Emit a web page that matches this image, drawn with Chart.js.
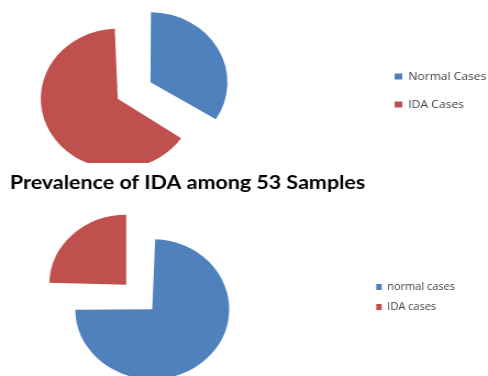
<!DOCTYPE html>
<html>
<head>
<meta charset="utf-8">
<script src="https://cdn.jsdelivr.net/npm/chart.js@4"></script>
<style>
  html, body { margin: 0; padding: 0; background: #fff; }
  #page { position: relative; width: 488px; height: 376px; overflow: hidden; }
  canvas { position: absolute; left: 0; }
</style>
</head>
<body>
<div id="page">
  <!-- the source picture is stretched sideways a little, so the canvases are too -->
  <canvas id="topPie" width="444" height="163" style="top:0;width:488px;height:163px"></canvas>
  <canvas id="bottomPie" width="444" height="230" style="top:163px;width:488px;height:230px"></canvas>
</div>
<script>
var topLabels = ["Normal Cases", "IDA Cases"];
var topValues = [18, 35];
var bottomLabels = ["normal cases", "IDA cases"];
var bottomValues = [40, 13];
var sliceColors = ["#4F81BD", "#C0504D"];
var bottomTitle = "Prevalence of IDA among 53 Samples";

// Chart.js makes an exploded slice bigger by part of its offset;
// take that back so every slice keeps the same radius.
var evenRadius = {
  id: "evenRadius",
  beforeDatasetsDraw: function(chart) {
    var meta = chart.getDatasetMeta(0);
    var base = meta.controller.outerRadius;
    meta.data.forEach(function(arc) {
      var shift = (arc.options.offset || 0) / 4;
      var fix = 1 - Math.sin(Math.min(Math.PI, arc.circumference));
      arc.outerRadius = base - shift * fix;
    });
  }
};

function makePie(id, labels, values, cfg) {
  return new Chart(document.getElementById(id), {
    type: "pie",
    data: {
      labels: labels,
      datasets: [{
        data: values,
        backgroundColor: sliceColors,
        borderWidth: 0,
        offset: 68,
        radius: 70
      }]
    },
    options: {
      responsive: false,
      animation: false,
      layout: { padding: cfg.padding },
      plugins: {
        tooltip: { enabled: false },
        title: cfg.title || { display: false },
        // empty box between the pie and the legend
        subtitle: {
          display: true,
          text: "",
          position: "right",
          weight: 500,
          font: { size: 10, lineHeight: 1 },
          padding: { top: 0, bottom: cfg.gap }
        },
        legend: {
          position: "right",
          fullSize: false,
          maxWidth: cfg.legendWidth,
          labels: {
            color: "#404040",
            font: { family: "Open Sans", size: cfg.fontSize },
            boxWidth: cfg.box,
            boxHeight: 6,
            padding: cfg.rowPad
          }
        }
      }
    },
    plugins: [evenRadius]
  });
}

makePie("topPie", topLabels, topValues, {
  padding: { left: 0, right: 0, top: 18, bottom: 0 },
  gap: 88,
  legendWidth: 102,
  fontSize: 11,
  box: 7,
  rowPad: 17
});

makePie("bottomPie", bottomLabels, bottomValues, {
  padding: { left: 9, right: 20, top: 0, bottom: 0 },
  gap: 78,
  legendWidth: 100,
  fontSize: 10,
  box: 5,
  rowPad: 10,
  title: {
    display: true,
    text: bottomTitle,
    align: "start",
    color: "#000",
    font: { family: "Lato", size: 19.5, weight: "bold", lineHeight: 1.2 },
    padding: { top: 8.5, bottom: 6 }
  }
});
</script>
</body>
</html>
